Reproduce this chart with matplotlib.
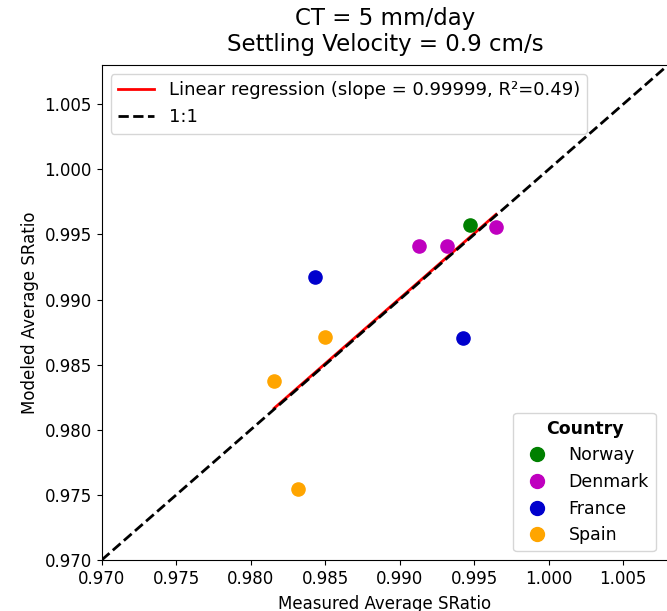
import numpy as np
import matplotlib
matplotlib.use('Agg')
import matplotlib.pyplot as plt
from matplotlib.lines import Line2D

# ============================================================
#  数据
# ============================================================
countries = ['Norway', 'Denmark', 'France', 'Spain']
country_colors = ['green', 'm', 'mediumblue', 'orange']

measured = {
    'Norway': [0.99472],
    'Denmark': [0.99130, 0.99317, 0.99646],
    'France': [0.98432, 0.99425],
    'Spain': [0.98157, 0.98499, 0.98317],
}
modeled = {
    'Norway': [0.99573],
    'Denmark': [0.99412, 0.99412, 0.99558],
    'France': [0.99174, 0.98705],
    'Spain': [0.98375, 0.98713, 0.97545],
}

reg_slope = 0.99999
reg_r2 = 0.49
lims = (0.970, 1.008)
tick_vals = [0.970, 0.975, 0.980, 0.985, 0.990, 0.995, 1.000, 1.005]


def main():
    plt.rcParams['font.family'] = ['DejaVu Sans']

    fig = plt.figure(figsize=(6.67, 6.11), dpi=100)
    ax = fig.add_axes([0.1525, 0.0835, 0.849, 0.810])

    all_x, all_y = [], []
    for c, col in zip(countries, country_colors):
        ax.scatter(measured[c], modeled[c], s=90, color=col, label=c, zorder=3)
        all_x += measured[c]
        all_y += modeled[c]

    all_x = np.array(all_x)
    all_y = np.array(all_y)
    xr = np.array([all_x.min(), all_x.max()])
    yr = reg_slope * (xr - all_x.mean()) + all_y.mean()
    reg_line, = ax.plot(xr, yr, color='red', linewidth=2, zorder=2)
    one_line, = ax.plot(lims, lims, 'k--', linewidth=2, zorder=2.5)

    ax.set_xlim(lims)
    ax.set_ylim(lims)
    ax.set_xticks(tick_vals)
    ax.set_yticks(tick_vals)
    ax.tick_params(labelsize=12)
    ax.set_xlabel('Measured Average SRatio', fontsize=12, labelpad=5)
    ax.set_ylabel('Modeled Average SRatio', fontsize=12)
    ax.set_title('CT = 5 mm/day\nSettling Velocity = 0.9 cm/s', fontsize=16.5, pad=10)

    leg1 = ax.legend([reg_line, one_line],
                     [f'Linear regression (slope = {reg_slope}, R²={reg_r2})', '1:1'],
                     loc='upper left', fontsize=13)
    ax.add_artist(leg1)

    handles = [Line2D([], [], marker='o', linestyle='', markersize=10,
                      color=col) for col in country_colors]
    leg2 = ax.legend(handles, countries, title='Country', loc='lower right',
                     fontsize=12.5, title_fontsize=12.5, bbox_to_anchor=(0.994, 0.0))
    leg2.get_title().set_fontweight('bold')

    fig.savefig('out.png', dpi=100)


if __name__ == '__main__':
    main()
